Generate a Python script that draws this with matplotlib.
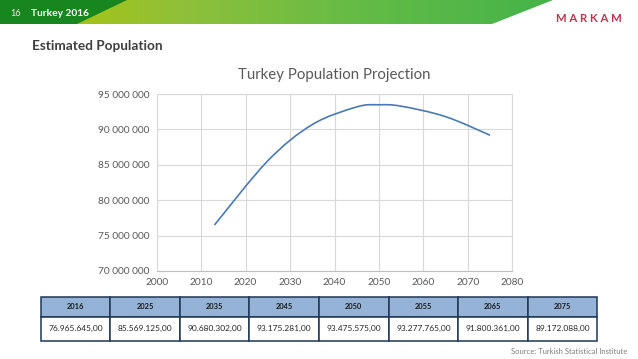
import numpy as np
import matplotlib
matplotlib.use("Agg")
import matplotlib.pyplot as plt
from matplotlib.patches import Polygon, PathPatch
from matplotlib.path import Path
from matplotlib.ticker import FuncFormatter

# veriler
table_years = ["2016", "2025", "2035", "2045", "2050", "2055", "2065", "2075"]
table_pop = [76965645.00, 85569125.00, 90680302.00, 93175281.00,
             93475575.00, 93277765.00, 91800361.00, 89172088.00]

chart_years = [2013, 2025, 2035, 2045, 2050, 2055, 2065, 2075]
chart_pop = [76500000, 85569125, 90680302, 93175281,
             93475575, 93277765, 91800361, 89172088]

plt.rcParams['font.family'] = ['Lato', 'DejaVu Sans']

W, H = 638, 359
fig = plt.figure(figsize=(W / 100, H / 100), dpi=100)

# arka plan katmani (piksel koordinatlari)
bg = fig.add_axes([0, 0, 1, 1], zorder=0)
bg.set_xlim(0, W)
bg.set_ylim(H, 0)
bg.axis('off')

# ust bant: gradyan
band = Polygon([[0, 0], [553, 0], [492, 24], [0, 24]], closed=True,
               facecolor='none', edgecolor='none')
bg.add_patch(band)
grad = np.linspace(0, 1, 256).reshape(1, -1)
cmap = matplotlib.colors.LinearSegmentedColormap.from_list(
    'band', ['#b4c500', '#8fc03a', '#62bb46', '#45b34a'])
im = bg.imshow(grad, extent=[0, 553, 24, 0], aspect='auto', cmap=cmap, zorder=1)
im.set_clip_path(band)
bg.add_patch(Polygon([[0, 0], [127, 0], [77, 24], [0, 24]], closed=True,
                     facecolor='#17861f', edgecolor='none', zorder=2))
bg.set_xlim(0, W)
bg.set_ylim(H, 0)

bg.text(10, 13, "16", color='#e8f0e0', fontsize=6.5, va='center', zorder=3)
bg.text(31, 13, "Turkey 2016", color='white', fontsize=7.3, fontweight='bold',
        va='center', zorder=3)
bg.text(589, 19, "M A R K A M", color='#c4314b', fontsize=8.2, fontweight='bold',
        ha='center', va='center', zorder=3)
bg.text(32, 46, "Estimated Population", color='#3f3f3f', fontsize=9.8,
        fontweight='bold', va='center')
bg.text(627, 352, "Source: Turkish Statistical Institute", color='#7f7f7f',
        fontsize=5.5, ha='right', va='center')

# tablo
def fmt_tr(v):
    s = f"{v:,.2f}"
    return s.replace(",", "X").replace(".", ",").replace("X", ".")

cells = [table_years, [fmt_tr(v) for v in table_pop]]
tb = bg.table(cellText=cells, cellLoc='center',
              bbox=[40.7 / W, 1 - 341 / H, (597.3 - 40.7) / W, (341 - 296.7) / H])
tb.auto_set_font_size(False)
for (r, c), cell in tb.get_celld().items():
    cell.set_edgecolor('#1f3656')
    cell.set_linewidth(1.1)
    if r == 0:
        cell.set_height(20)
        cell.set_facecolor('#95b3d7')
        cell.get_text().set_fontweight('bold')
        cell.get_text().set_fontsize(5.4)
        cell.get_text().set_color('#1a1a1a')
    else:
        cell.set_height(24.3)
        cell.set_facecolor('white')
        cell.get_text().set_fontsize(6)
        cell.get_text().set_color('#262626')

# grafik
ax = fig.add_axes([156.7 / W, 1 - 271 / H, (512.3 - 156.7) / W, (271 - 94) / H], zorder=2)
ax.set_xlim(2000, 2080)
ax.set_ylim(70000000, 95000000)

# Excel tarzi yumusatilmis cizgi (Bezier kontrol noktalari veriden)
pts = np.column_stack([chart_years, chart_pop]).astype(float)
verts = [pts[0]]
codes = [Path.MOVETO]
for i in range(len(pts) - 1):
    p0 = pts[max(i - 1, 0)]
    p1 = pts[i]
    p2 = pts[i + 1]
    p3 = pts[min(i + 2, len(pts) - 1)]
    c1 = p1 + (p2 - p0) / 6
    c2 = p2 - (p3 - p1) / 6
    verts += [c1, c2, p2]
    codes += [Path.CURVE4] * 3
ax.add_patch(PathPatch(Path(verts, codes), facecolor='none',
                       edgecolor='#4a7ab5', linewidth=1.2))

ax.set_xticks(np.arange(2000, 2081, 10))
ax.set_yticks(np.arange(70000000, 95000001, 5000000))
ax.yaxis.set_major_formatter(FuncFormatter(lambda v, p: f"{v:,.0f}".replace(",", " ")))
ax.grid(True, color='#d9d9d9', linewidth=0.8)
ax.set_axisbelow(True)
for s in ax.spines.values():
    s.set_color('#d9d9d9')
    s.set_linewidth(0.8)
ax.spines['bottom'].set_color('#bfbfbf')
ax.tick_params(length=0, labelsize=7.3, colors='#595959', pad=5)
ax.set_facecolor('none')
ax.set_title("Turkey Population Projection", fontsize=10.8, color='#595959', pad=11)

fig.savefig("out.png", dpi=100)
